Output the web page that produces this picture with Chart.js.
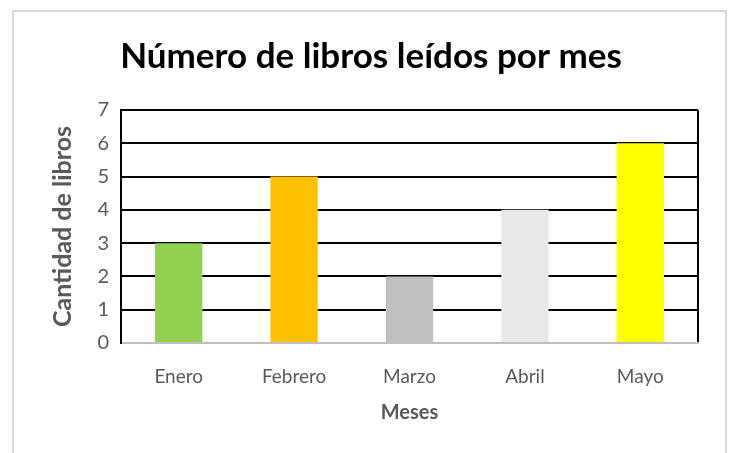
<!DOCTYPE html>
<html>
<head>
<meta charset="utf-8">
<script src="https://cdn.jsdelivr.net/npm/chart.js@4"></script>
<style>
  html, body { margin: 0; padding: 0; background: #ffffff; }
  #wrap { position: relative; width: 731px; height: 453px; overflow: hidden; }
  #frame { position: absolute; left: 12px; top: 10px; width: 711px; height: 520px;
           border: 2px solid #d9d9d9; pointer-events: none; }
  canvas { position: absolute; left: 0; top: 0; }
</style>
</head>
<body>
<div id="wrap">
  <canvas id="chart" width="731" height="453"></canvas>
  <div id="frame"></div>
</div>
<script>
// Libros leídos cada mes
const meses = ['Enero', 'Febrero', 'Marzo', 'Abril', 'Mayo'];
const libros = [3, 5, 2, 4, 6];
const colores = ['#92D050', '#FFC000', '#BFBFBF', '#E8E8E8', '#FFFF00'];
const yTicks = [0, 1, 2, 3, 4, 5, 6, 7];

const FONT = 'Lato, Calibri, "Open Sans", sans-serif';
const GRIS = '#595959';

new Chart(document.getElementById('chart'), {
  type: 'bar',
  data: {
    labels: meses,
    datasets: [{
      data: libros,
      backgroundColor: colores,
      borderWidth: 0,
      categoryPercentage: 1,
      barPercentage: 0.41
    }]
  },
  options: {
    responsive: false,
    animation: false,
    layout: { padding: { left: 44, right: 33, top: 0, bottom: 24 } },
    plugins: {
      legend: { display: false },
      tooltip: { enabled: false },
      title: {
        display: true,
        text: 'Número de libros leídos por mes',
        color: '#000000',
        font: { family: FONT, size: 35, weight: 'bold' },
        padding: { top: 36, bottom: 32 }
      }
    },
    scales: {
      x: {
        grid: {
          drawTicks: false,
          offset: true,
          lineWidth: 2,
          // only the closing line on the right edge of the plot
          color: (c) => (c.type === 'scale' ? '#000000' : 'rgba(0,0,0,0)')
        },
        border: { display: true, color: '#BFBFBF', width: 2 },
        ticks: { color: GRIS, padding: 22, font: { family: FONT, size: 19 } },
        title: {
          display: true,
          text: 'Meses',
          color: GRIS,
          font: { family: FONT, size: 20, weight: 'bold' }
        },
        afterFit: (s) => { s.height = 86; }
      },
      y: {
        min: yTicks[0],
        max: yTicks[yTicks.length - 1],
        afterBuildTicks: (s) => { s.ticks = yTicks.map(v => ({ value: v })); },
        grid: {
          drawTicks: false,
          lineWidth: 2,
          color: (c) => (c.tick && c.tick.value === 0 ? 'rgba(0,0,0,0)' : '#000000')
        },
        border: { display: true, color: '#000000', width: 2 },
        ticks: { color: GRIS, padding: 12, font: { family: FONT, size: 20 } },
        title: {
          display: true,
          text: 'Cantidad de libros',
          color: GRIS,
          font: { family: FONT, size: 25, weight: 'bold' }
        },
        afterFit: (s) => { s.width = 77; }
      }
    }
  }
});
</script>
</body>
</html>
